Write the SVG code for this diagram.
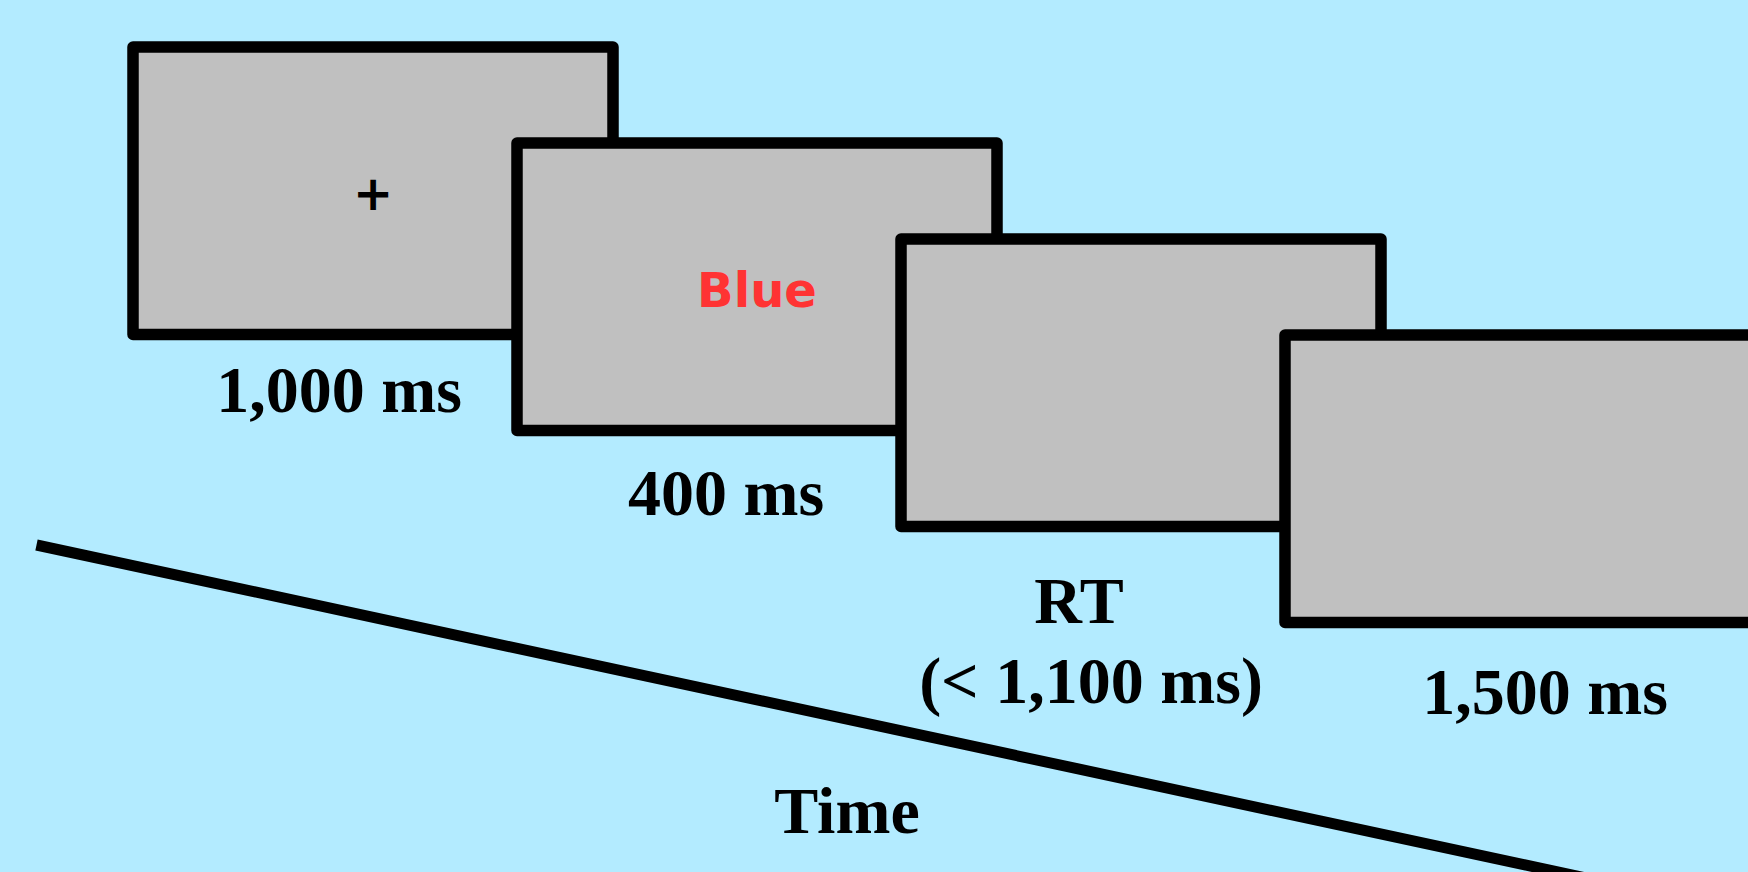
<svg xmlns="http://www.w3.org/2000/svg" width="1748" height="872" viewBox="0 0 1748 872">
<style>
.scr{fill:#C0C0C0;stroke:#000;stroke-width:11.5;stroke-linejoin:round}
.lbl{font-family:"Liberation Serif","Times New Roman",serif;font-weight:bold;font-size:66px;fill:#000;text-anchor:middle}
.stim{font-family:"DejaVu Sans",sans-serif;font-weight:bold;font-size:48px;text-anchor:middle}
</style>
<rect x="0" y="0" width="1748" height="872" fill="#B3EBFF"/>
<g id="connectors">
<line x1="36.5" y1="545" x2="1760" y2="915.4" stroke="#000" stroke-width="11"/>
</g>
<g id="screen1">
<rect class="scr" x="133" y="47" width="480" height="287.5"/>
<text class="stim" x="373" y="210" fill="#000" font-size="50">+</text>
</g>
<g id="screen2">
<rect class="scr" x="517" y="143" width="480" height="287.5"/>
<text class="stim" x="757" y="307" fill="#FF3333">Blue</text>
</g>
<g id="screen3">
<rect class="scr" x="901" y="239" width="480" height="287.5"/>
</g>
<g id="screen4">
<rect class="scr" x="1285" y="335" width="480" height="287.5"/>
</g>
<g id="labels">
<text class="lbl" x="339" y="412">1,000 ms</text>
<text class="lbl" x="726" y="515">400 ms</text>
<text class="lbl" x="1079" y="623">RT</text>
<text class="lbl" x="1091" y="703">(&lt; 1,100 ms)</text>
<text class="lbl" x="1545" y="714">1,500 ms</text>
<text class="lbl" x="847" y="833">Time</text>
</g>
</svg>
